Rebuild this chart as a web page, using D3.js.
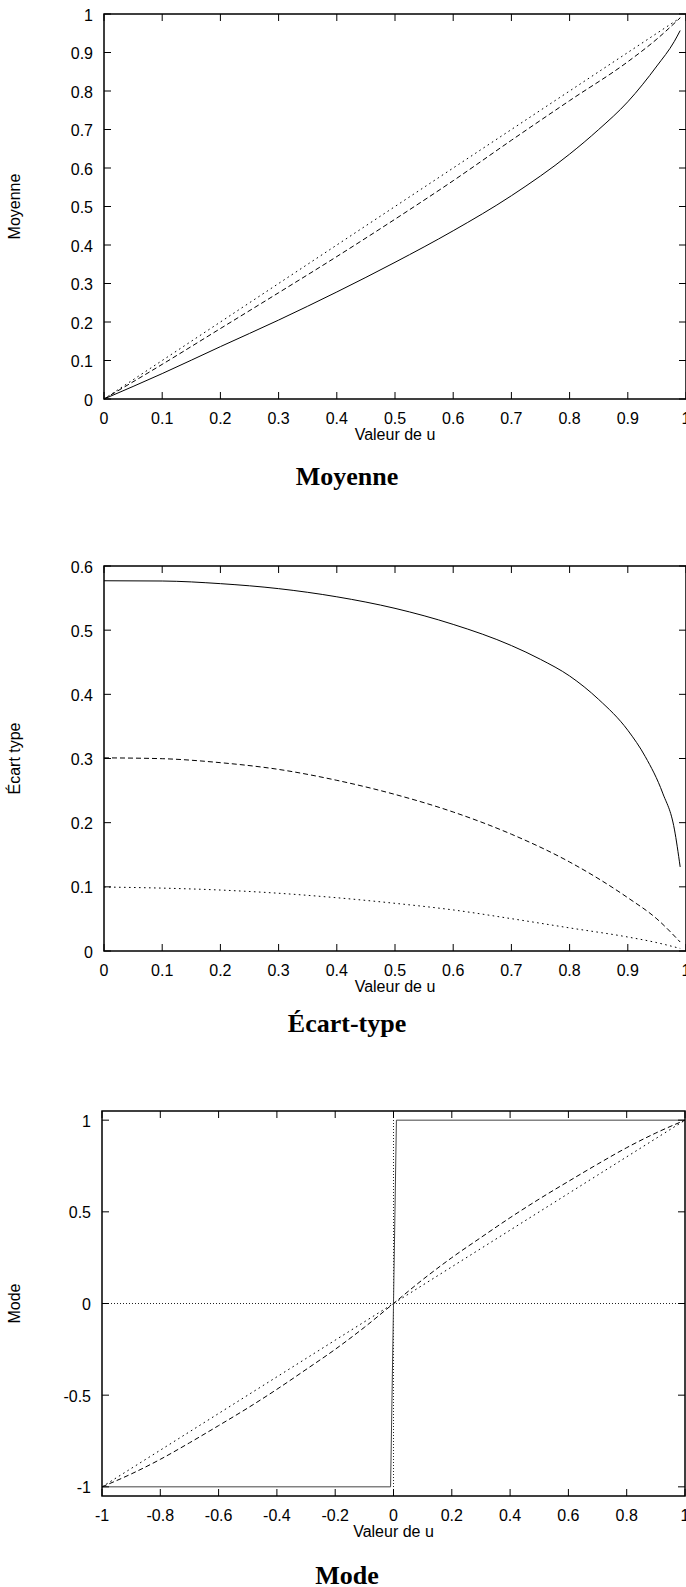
<!DOCTYPE html>
<html>
<head>
<meta charset="utf-8">
<script src="https://cdn.jsdelivr.net/npm/d3@7"></script>
<style>
  body { margin: 0; background: #fff; }
  svg { display: block; }
</style>
</head>
<body>
<svg id="canvas" width="686" height="1587"></svg>
<script>
// ---- data ----

// Moyenne
const meanSolidU = [0, 0.1, 0.2, 0.3, 0.4, 0.5, 0.6, 0.7, 0.8, 0.85, 0.9, 0.95, 0.98, 0.99];
const meanSolid  = [0, 0.066, 0.136, 0.205, 0.278, 0.355, 0.437, 0.528, 0.636, 0.700, 0.772, 0.865, 0.929, 0.957];
const meanU      = [0, 0.1, 0.2, 0.3, 0.4, 0.5, 0.6, 0.7, 0.8, 0.9, 0.95, 0.99];
const meanDashed = [0, 0.09, 0.183, 0.276, 0.37, 0.467, 0.567, 0.672, 0.775, 0.876, 0.935, 0.99];
const meanDotted = [0, 0.1, 0.2, 0.3, 0.4, 0.5, 0.6, 0.7, 0.8, 0.9, 0.95, 0.99];

// Écart-type
const sdSolidU = [0, 0.1, 0.2, 0.3, 0.4, 0.5, 0.6, 0.7, 0.75, 0.8, 0.85, 0.9, 0.93, 0.96, 0.98, 0.99];
const sdSolid  = [0.577, 0.5766, 0.5725, 0.5647, 0.552, 0.534, 0.509, 0.476, 0.4545, 0.4286, 0.392, 0.344, 0.303, 0.246, 0.190, 0.131];
const sdU      = [0, 0.1, 0.2, 0.3, 0.4, 0.5, 0.6, 0.7, 0.8, 0.9, 0.95, 0.99];
const sdDashed = [0.301, 0.2997, 0.2935, 0.283, 0.266, 0.244, 0.2166, 0.182, 0.1387, 0.083, 0.05, 0.014];
const sdDotted = [0.0997, 0.098, 0.095, 0.090, 0.083, 0.0743, 0.064, 0.0504, 0.036, 0.0218, 0.013, 0.004];

// Mode
const modeSolidU = [-1, -0.01, 0.01, 1];
const modeSolid  = [-1, -1, 1, 1];
const modeU      = [-1, -0.9, -0.8, -0.7, -0.6, -0.5, -0.4, -0.3, -0.2, -0.1, 0, 0.1, 0.2, 0.3, 0.4, 0.5, 0.6, 0.7, 0.8, 0.9, 1];
const modeDashed = [-1, -0.93, -0.85, -0.76, -0.666, -0.57, -0.468, -0.36, -0.25, -0.13, 0, 0.13, 0.25, 0.36, 0.468, 0.57, 0.666, 0.76, 0.85, 0.93, 1];
const modeDotted = [-1, -0.9, -0.8, -0.7, -0.6, -0.5, -0.4, -0.3, -0.2, -0.1, 0, 0.1, 0.2, 0.3, 0.4, 0.5, 0.6, 0.7, 0.8, 0.9, 1];

// ticks
const unitTicks  = [0, 0.1, 0.2, 0.3, 0.4, 0.5, 0.6, 0.7, 0.8, 0.9, 1];
const sdTicks    = [0, 0.1, 0.2, 0.3, 0.4, 0.5, 0.6];
const modeXTicks = [-1, -0.8, -0.6, -0.4, -0.2, 0, 0.2, 0.4, 0.6, 0.8, 1];
const modeYTicks = [-1, -0.5, 0, 0.5, 1];

const CANVAS = d3.select("#canvas");
const SANS = "'Liberation Sans', Arial, Helvetica, sans-serif";
const SERIF = "'Liberation Serif', 'Times New Roman', serif";
const TICK = 7;
const TITLE_X = 347;

const STYLES = {
  solid:  { dash: null,      color: "#000" },
  dashed: { dash: "5,3",     color: "#000" },
  dotted: { dash: "1.6,3.4", color: "#000" }
};

/**
 * draws one gnuplot-like panel
 */
function drawPanel(p) {
  var x = d3.scaleLinear().domain(p.xDomain).range([p.left, p.right]);
  var y = d3.scaleLinear().domain(p.yDomain).range([p.bottom, p.top]);
  var g = CANVAS.append("g");

  // zero axes (dotted)
  if (p.zeroAxes) {
    g.append("line")
      .attr("x1", p.left).attr("x2", p.right)
      .attr("y1", y(0)).attr("y2", y(0))
      .attr("stroke", "#222").attr("stroke-width", 1)
      .attr("stroke-dasharray", "1,2");
    g.append("line")
      .attr("x1", x(0)).attr("x2", x(0))
      .attr("y1", p.top).attr("y2", p.bottom)
      .attr("stroke", "#222").attr("stroke-width", 1)
      .attr("stroke-dasharray", "1,2");
  }

  // curves
  p.series.forEach(function (s) {
    var st = STYLES[s.style];
    var line = d3.line()
      .x(d => x(d[0])).y(d => y(d[1]))
      .curve(s.step ? d3.curveLinear : d3.curveMonotoneX);
    g.append("path")
      .datum(d3.zip(s.x, s.y))
      .attr("d", line)
      .attr("fill", "none")
      .attr("stroke", s.color || st.color)
      .attr("stroke-width", 1)
      .attr("stroke-dasharray", st.dash);
  });

  // ticks, mirrored on top and right
  p.xTicks.forEach(function (t) {
    g.append("line").attr("x1", x(t)).attr("x2", x(t))
      .attr("y1", p.bottom).attr("y2", p.bottom - TICK)
      .attr("stroke", "#000").attr("stroke-width", 1);
    g.append("line").attr("x1", x(t)).attr("x2", x(t))
      .attr("y1", p.top).attr("y2", p.top + TICK)
      .attr("stroke", "#000").attr("stroke-width", 1);
    g.append("text")
      .attr("x", x(t)).attr("y", p.bottom + 25)
      .attr("text-anchor", "middle")
      .style("font-family", SANS).style("font-size", "16px")
      .text(String(t));
  });
  p.yTicks.forEach(function (t) {
    g.append("line").attr("x1", p.left).attr("x2", p.left + TICK)
      .attr("y1", y(t)).attr("y2", y(t))
      .attr("stroke", "#000").attr("stroke-width", 1);
    g.append("line").attr("x1", p.right).attr("x2", p.right - TICK)
      .attr("y1", y(t)).attr("y2", y(t))
      .attr("stroke", "#000").attr("stroke-width", 1);
    g.append("text")
      .attr("x", p.left - 11).attr("y", y(t) + 6.5)
      .attr("text-anchor", "end")
      .style("font-family", SANS).style("font-size", "16px")
      .text(String(t));
  });

  // border
  g.append("rect")
    .attr("x", p.left).attr("y", p.top)
    .attr("width", p.right - p.left).attr("height", p.bottom - p.top)
    .attr("fill", "none").attr("stroke", "#000").attr("stroke-width", 1.5);

  // axis labels
  g.append("text")
    .attr("x", (p.left + p.right) / 2).attr("y", p.bottom + 41)
    .attr("text-anchor", "middle")
    .style("font-family", SANS).style("font-size", "16px")
    .text("Valeur de u");

  var cy = (p.top + p.bottom) / 2;
  g.append("text")
    .attr("transform", "translate(20," + cy + ") rotate(-90)")
    .attr("text-anchor", "middle")
    .style("font-family", SANS).style("font-size", "16px")
    .text(p.yLabel);

  // caption
  g.append("text")
    .attr("x", TITLE_X).attr("y", p.titleY)
    .attr("text-anchor", "middle")
    .style("font-family", SERIF).style("font-size", "26px")
    .style("font-weight", "bold")
    .text(p.title);
}

drawPanel({
  xDomain: [0, 1], yDomain: [0, 1],
  left: 104, right: 686, top: 14, bottom: 399,
  xTicks: unitTicks, yTicks: unitTicks,
  yLabel: "Moyenne", title: "Moyenne", titleY: 485,
  series: [
    { x: meanSolidU, y: meanSolid, style: "solid" },
    { x: meanU, y: meanDashed, style: "dashed" },
    { x: meanU, y: meanDotted, style: "dotted" }
  ]
});

drawPanel({
  xDomain: [0, 1], yDomain: [0, 0.6],
  left: 104, right: 686, top: 566, bottom: 951,
  xTicks: unitTicks, yTicks: sdTicks,
  yLabel: "Écart type", title: "Écart-type", titleY: 1032,
  series: [
    { x: sdSolidU, y: sdSolid, style: "solid" },
    { x: sdU, y: sdDashed, style: "dashed" },
    { x: sdU, y: sdDotted, style: "dotted" }
  ]
});

drawPanel({
  xDomain: [-1, 1], yDomain: [-1.05, 1.05],
  left: 102, right: 685, top: 1111, bottom: 1496,
  xTicks: modeXTicks, yTicks: modeYTicks,
  yLabel: "Mode", title: "Mode", titleY: 1584,
  zeroAxes: true,
  series: [
    { x: modeSolidU, y: modeSolid, style: "solid", color: "#444", step: true },
    { x: modeU, y: modeDashed, style: "dashed" },
    { x: modeU, y: modeDotted, style: "dotted" }
  ]
});
</script>
</body>
</html>
